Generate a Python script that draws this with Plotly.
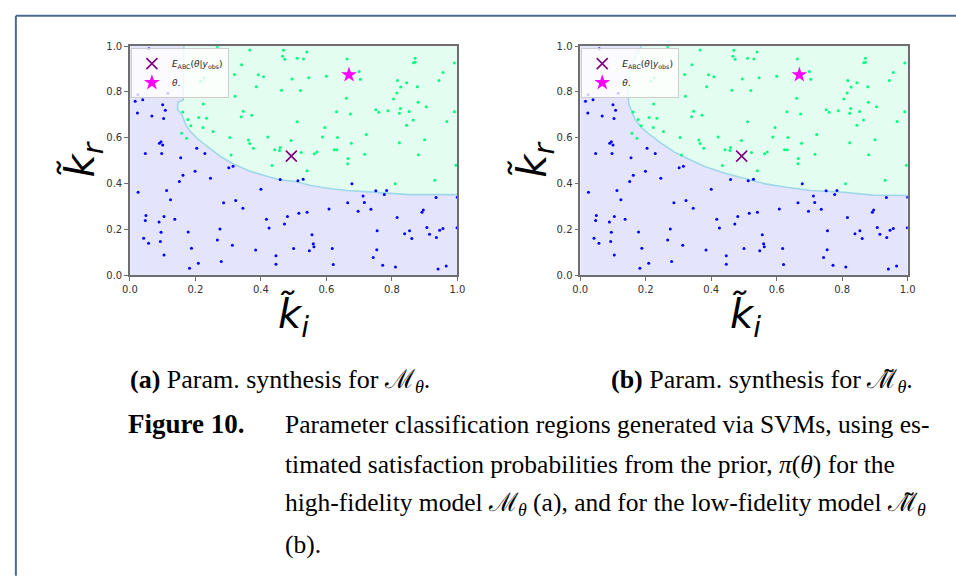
import plotly.graph_objects as go

W, H = 956, 576

# ---------------- data ----------------
tick_vals = [0.0, 0.2, 0.4, 0.6, 0.8, 1.0]
tick_text = ["0.0", "0.2", "0.4", "0.6", "0.8", "1.0"]

# prior samples classified as "not satisfied" (blue)
blue_x = [0.058, 0.024, 0.016, 0.039, 0.023, 0.116, 0.100, 0.108, 0.103, 0.067,
          0.090, 0.095, 0.100, 0.047, 0.097, 0.155, 0.204, 0.229,
          0.459, 0.302, 0.315, 0.199, 0.162, 0.151, 0.246, 0.025, 0.112, 0.124,
          0.400, 0.286, 0.323, 0.345, 0.049, 0.047, 0.104, 0.089, 0.137, 0.417,
          0.425, 0.481, 0.472, 0.095, 0.178, 0.275, 0.042, 0.057, 0.093, 0.267,
          0.313, 0.188, 0.104, 0.279, 0.209, 0.182, 0.384, 0.446, 0.446,
          0.513, 0.529, 0.678, 0.751, 0.784, 0.777, 0.712, 0.716, 0.665, 0.697,
          0.736, 0.935, 1.000, 0.608, 0.541, 0.516, 0.896, 0.892, 0.816, 0.907,
          0.915, 0.946, 0.956, 0.999, 0.936, 0.755, 0.839, 0.854, 0.861, 0.556,
          0.560, 0.562, 0.548, 0.500, 0.618, 0.754, 0.743, 0.621, 0.772, 0.811,
          0.941, 0.966]
blue_y = [0.989, 0.788, 0.759, 0.766, 0.708, 0.794, 0.744, 0.720, 0.684, 0.695,
          0.576, 0.583, 0.569, 0.531, 0.531, 0.513, 0.554, 0.531,
          0.418, 0.469, 0.476, 0.454, 0.437, 0.409, 0.424, 0.362, 0.370, 0.330,
          0.375, 0.316, 0.326, 0.292, 0.261, 0.239, 0.256, 0.232, 0.244, 0.245,
          0.206, 0.256, 0.224, 0.188, 0.189, 0.202, 0.162, 0.140, 0.147, 0.154,
          0.131, 0.118, 0.088, 0.060, 0.053, 0.031, 0.110, 0.085, 0.048,
          0.413, 0.419, 0.399, 0.369, 0.370, 0.352, 0.346, 0.318, 0.316, 0.279,
          0.288, 0.339, 0.341, 0.289, 0.275, 0.271, 0.285, 0.275, 0.252, 0.209,
          0.179, 0.197, 0.204, 0.207, 0.165, 0.194, 0.181, 0.194, 0.161, 0.177,
          0.138, 0.124, 0.107, 0.117, 0.117, 0.111, 0.078, 0.047, 0.044, 0.036,
          0.027, 0.041]

# prior samples classified as "satisfied" (green)
green_x = [0.267, 0.366, 0.469, 0.466, 0.473, 0.341, 0.392, 0.408, 0.319, 0.226,
           0.216, 0.386, 0.463, 0.321, 0.224, 0.346, 0.340, 0.372, 0.161, 0.210,
           0.234, 0.177, 0.186, 0.223, 0.254, 0.158, 0.173, 0.305, 0.421, 0.362,
           0.366, 0.377, 0.442, 0.457, 0.459, 0.309, 0.434,
           0.540, 0.511, 0.530, 0.663, 0.871, 0.866, 0.871, 0.991, 0.495, 0.546,
           0.600, 0.700, 0.704, 0.956, 0.944, 0.521, 0.817, 0.845, 0.827, 0.878,
           0.815, 0.805, 0.661, 0.880, 0.905, 0.631, 0.673, 0.751, 0.760, 0.788,
           0.823, 0.826, 0.853, 0.991, 0.968, 0.865, 0.845, 0.511, 0.595, 0.588,
           0.634, 0.722, 0.676, 0.492, 0.823, 0.900, 0.523, 0.563, 0.571, 0.624,
           0.632, 0.717, 0.881, 0.666,
           0.665, 0.541, 0.996, 0.810, 0.931]
green_y = [0.998, 0.983, 0.982, 0.956, 0.943, 0.919, 0.875, 0.866, 0.876, 0.862,
           0.847, 0.823, 0.807, 0.781, 0.748, 0.716, 0.692, 0.698, 0.713, 0.689,
           0.685, 0.680, 0.653, 0.645, 0.627, 0.620, 0.598, 0.601, 0.603, 0.590,
           0.575, 0.554, 0.548, 0.545, 0.558, 0.525, 0.479,
           0.974, 0.947, 0.944, 0.944, 0.947, 0.928, 0.930, 0.926, 0.857, 0.862,
           0.869, 0.889, 0.855, 0.885, 0.850, 0.806, 0.850, 0.840, 0.822, 0.823,
           0.795, 0.769, 0.773, 0.755, 0.736, 0.714, 0.704, 0.722, 0.712, 0.718,
           0.707, 0.728, 0.715, 0.714, 0.671, 0.678, 0.655, 0.670, 0.645, 0.603,
           0.601, 0.614, 0.576, 0.588, 0.578, 0.592, 0.536, 0.530, 0.538, 0.548,
           0.548, 0.528, 0.526, 0.510,
           0.487, 0.456, 0.480, 0.399, 0.415]

# SVM decision boundaries
boundary_a_x = [0.165, 0.163, 0.147, 0.145, 0.160, 0.170, 0.185, 0.205, 0.240, 0.280,
                0.320, 0.365, 0.408, 0.459, 0.503, 0.553, 0.603, 0.663, 0.743, 0.853, 1.000]
boundary_a_y = [1.000, 0.765, 0.755, 0.727, 0.698, 0.658, 0.627, 0.598, 0.558, 0.515,
                0.483, 0.455, 0.437, 0.416, 0.410, 0.392, 0.380, 0.370, 0.363, 0.352, 0.352]
boundary_b_x = [0.188, 0.172, 0.158, 0.150, 0.146, 0.148, 0.157, 0.168, 0.185, 0.207,
                0.247, 0.287, 0.332, 0.382, 0.442, 0.505, 0.565, 0.625, 0.705, 0.805,
                0.895, 1.000]
boundary_b_y = [1.000, 0.965, 0.920, 0.870, 0.800, 0.750, 0.715, 0.680, 0.648, 0.620,
                0.577, 0.538, 0.506, 0.474, 0.445, 0.420, 0.399, 0.385, 0.370, 0.362,
                0.350, 0.348]

estimate_x = [0.493]
estimate_y = [0.520]
theta_x = [0.669]
theta_y = [0.875]

# ---------------- style ----------------
BLUE = "rgb(0,0,255)"
GREEN = "rgb(0,255,128)"
LAVENDER = "#e4e4fd"
MINT = "#e4fdf1"
EDGE = "rgba(130,205,228,0.7)"
SPINE = "#6e6e6e"


def px_x(p):
    return p / W


def px_y(p):
    return 1 - p / H


panels = [
    dict(xa="x", ya="y", bx=boundary_a_x, by=boundary_a_y, legend="legend"),
    dict(xa="x2", ya="y2", bx=boundary_b_x, by=boundary_b_y, legend="legend2"),
]

fig = go.Figure()
for p in panels:
    fig.add_trace(go.Scatter(
        x=p["bx"] + [1.0], y=p["by"] + [1.0], xaxis=p["xa"], yaxis=p["ya"],
        mode="lines", fill="toself", fillcolor=MINT, line=dict(width=0),
        showlegend=False, hoverinfo="skip"))
    fig.add_trace(go.Scatter(
        x=p["bx"], y=p["by"], xaxis=p["xa"], yaxis=p["ya"], mode="lines",
        line=dict(color=EDGE, width=1.6),
        showlegend=False, hoverinfo="skip"))
    fig.add_trace(go.Scatter(
        x=blue_x, y=blue_y, xaxis=p["xa"], yaxis=p["ya"], mode="markers",
        marker=dict(color=BLUE, size=3), showlegend=False))
    fig.add_trace(go.Scatter(
        x=green_x, y=green_y, xaxis=p["xa"], yaxis=p["ya"], mode="markers",
        marker=dict(color=GREEN, size=3), showlegend=False))
    fig.add_trace(go.Scatter(
        x=estimate_x, y=estimate_y, xaxis=p["xa"], yaxis=p["ya"], mode="markers",
        marker=dict(symbol="x-thin", size=11, color="purple",
                    line=dict(color="purple", width=1.6)),
        name="<i>E</i><sub>ABC</sub>(<i>θ</i>|<i>y</i><sub>obs</sub>)",
        legend=p["legend"]))
    fig.add_trace(go.Scatter(
        x=theta_x, y=theta_y, xaxis=p["xa"], yaxis=p["ya"], mode="markers",
        marker=dict(symbol="star", size=12, color="magenta", line=dict(width=0)),
        name="<i>θ</i>.", legend=p["legend"]))

axis_common = dict(
    range=[0, 1], tickvals=tick_vals, ticktext=tick_text,
    showgrid=False, zeroline=False, showline=True, mirror=True,
    linecolor=SPINE, linewidth=1.5, ticks="outside", ticklen=4,
    tickcolor=SPINE, tickwidth=1,
    tickfont=dict(family="DejaVu Sans", size=10, color="#333333"),
)

legend_common = dict(
    xanchor="left", yanchor="top",
    bgcolor="rgba(255,255,255,0.8)", bordercolor="#cccccc", borderwidth=1,
    font=dict(family="DejaVu Sans", size=9, color="#222"),
    itemwidth=30, tracegroupgap=0,
)

ydom = [px_y(275), px_y(41)]
fig.update_layout(
    width=W, height=H,
    margin=dict(l=0, r=0, t=0, b=0),
    paper_bgcolor="white",
    plot_bgcolor=LAVENDER,
    xaxis=dict(domain=[px_x(124), px_x(457)], anchor="y", **axis_common),
    yaxis=dict(domain=ydom, anchor="x", **axis_common),
    xaxis2=dict(domain=[px_x(582), px_x(915)], anchor="y2", **axis_common),
    yaxis2=dict(domain=ydom, anchor="x2", **axis_common),
    legend=dict(x=px_x(125), y=px_y(43), **legend_common),
    legend2=dict(x=px_x(583), y=px_y(43), **legend_common),
    showlegend=True,
)

ann = []
label_font = dict(family="DejaVu Sans", size=40, color="black")
for cx in (76, 535):
    ann.append(dict(x=px_x(cx), y=px_y(157), xref="paper", yref="paper",
                    text="<i>k̃</i><sub><i>r</i></sub>", textangle=-90,
                    showarrow=False, font=label_font, xanchor="center", yanchor="middle"))
for cx in (290, 750):
    ann.append(dict(x=px_x(cx), y=px_y(318), xref="paper", yref="paper",
                    text="<i>k̃</i><sub><i>i</i></sub>",
                    showarrow=False, font=label_font, xanchor="center", yanchor="middle"))

cap_font = dict(family="Liberation Serif", size=26, color="black")
ann.append(dict(x=px_x(122), y=px_y(383), xref="paper", yref="paper",
                text="<b>(a)</b> Param. synthesis for ℳ<sub><i>θ</i></sub>.",
                showarrow=False, font=cap_font, xanchor="left", yanchor="middle"))
ann.append(dict(x=px_x(611), y=px_y(383), xref="paper", yref="paper",
                text="<b>(b)</b> Param. synthesis for ℳ̃<sub><i>θ</i></sub>.",
                showarrow=False, font=cap_font, xanchor="left", yanchor="middle"))

fig_font = dict(family="Liberation Serif", size=25.5, color="black")
ann.append(dict(x=px_x(120), y=px_y(427), xref="paper", yref="paper",
                text="<b>Figure 10.</b>", showarrow=False,
                font=dict(family="Liberation Serif", size=27, color="black"),
                xanchor="left", yanchor="middle"))
caption_lines = [
    "Parameter classification regions generated via SVMs, using es-",
    "timated satisfaction probabilities from the prior, <i>π</i>(<i>θ</i>) for the",
    "high-fidelity model ℳ<sub><i>θ</i></sub> (a), and for the low-fidelity model ℳ̃<sub><i>θ</i></sub>",
    "(b).",
]
for i, line in enumerate(caption_lines):
    ann.append(dict(x=px_x(280), y=px_y(427 + 41 * i), xref="paper", yref="paper",
                    text=line, showarrow=False, font=fig_font,
                    xanchor="left", yanchor="middle"))

fig.update_layout(annotations=ann)

frame_color = "#4a6a96"
fig.update_layout(shapes=[
    dict(type="line", xref="paper", yref="paper", x0=px_x(8), x1=px_x(8),
         y0=px_y(10), y1=-0.01, line=dict(color=frame_color, width=2)),
    dict(type="line", xref="paper", yref="paper", x0=px_x(8), x1=1.01,
         y0=px_y(10), y1=px_y(10), line=dict(color=frame_color, width=2)),
])

fig.write_html("out.html")
